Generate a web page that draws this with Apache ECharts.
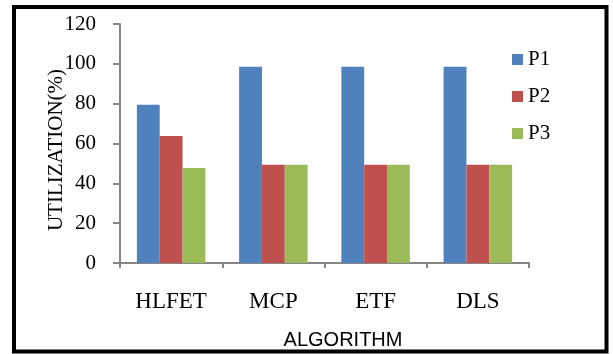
<!DOCTYPE html>
<html>
<head>
<meta charset="utf-8">
<script src="https://cdn.jsdelivr.net/npm/echarts@6/dist/echarts.min.js"></script>
<style>
  html, body { margin: 0; padding: 0; background: #fff; }
  #chart { width: 613px; height: 354px; }
</style>
</head>
<body>
<div id="chart"></div>
<script>
// Processor utilization per scheduling algorithm
const categories = ['HLFET', 'MCP', 'ETF', 'DLS'];
const seriesNames = ['P1', 'P2', 'P3'];
const p1 = [79.4, 98.5, 98.5, 98.5];
const p2 = [63.8, 49.3, 49.3, 49.3];
const p3 = [47.7, 49.3, 49.3, 49.3];
const yTicks = [0, 20, 40, 60, 80, 100, 120];

const colors = ['#4F81BD', '#C0504D', '#9BBB59'];
const axisGray = '#868686';
const serif = '"Liberation Serif", "Times New Roman", serif';

const chart = echarts.init(document.getElementById('chart'), null, { renderer: 'canvas' });

const values = [p1, p2, p3];

chart.setOption({
  animation: false,
  backgroundColor: '#fff',
  color: colors,
  grid: { left: 120, right: 84, top: 24, bottom: 91 },
  legend: {
    orient: 'vertical',
    left: 512,
    top: 49,
    padding: 0,
    icon: 'rect',
    itemWidth: 11,
    itemHeight: 11,
    itemGap: 16,
    textStyle: { fontFamily: serif, fontSize: 21, color: '#000', lineHeight: 21 },
    data: seriesNames
  },
  xAxis: {
    type: 'category',
    data: categories,
    axisLine: { lineStyle: { color: axisGray, width: 2 } },
    axisTick: { show: true, length: 5, lineStyle: { color: axisGray, width: 2 } },
    axisLabel: { fontFamily: serif, fontSize: 23, color: '#000', margin: 27 }
  },
  yAxis: {
    type: 'value',
    min: yTicks[0],
    max: yTicks[yTicks.length - 1],
    interval: yTicks[1] - yTicks[0],
    splitLine: { show: false },
    axisLine: { show: true, lineStyle: { color: axisGray, width: 2 } },
    axisTick: { show: true, length: 7, lineStyle: { color: axisGray, width: 2 } },
    axisLabel: { fontFamily: serif, fontSize: 21, color: '#000', margin: 24 }
  },
  series: seriesNames.map((name, i) => ({
    name: name,
    type: 'bar',
    data: values[i],
    barGap: '0%',
    barCategoryGap: '33%',
    itemStyle: { color: colors[i] }
  })),
  graphic: [
    {
      type: 'rect',
      shape: { x: 14, y: 7, width: 592.5, height: 344.5 },
      style: { fill: 'none', stroke: '#000', lineWidth: 4 },
      z: 100
    },
    {
      type: 'text',
      x: 56,
      y: 150,
      rotation: Math.PI / 2,
      style: {
        text: 'UTILIZATION(%)',
        fontFamily: serif,
        fontSize: 21,
        fill: '#000',
        align: 'center',
        verticalAlign: 'middle'
      }
    },
    {
      type: 'text',
      x: 343,
      y: 340,
      style: {
        text: 'ALGORITHM',
        fontFamily: '"Liberation Sans", Arial, sans-serif',
        fontSize: 20,
        fill: '#000',
        align: 'center',
        verticalAlign: 'middle'
      }
    }
  ]
});
</script>
</body>
</html>
